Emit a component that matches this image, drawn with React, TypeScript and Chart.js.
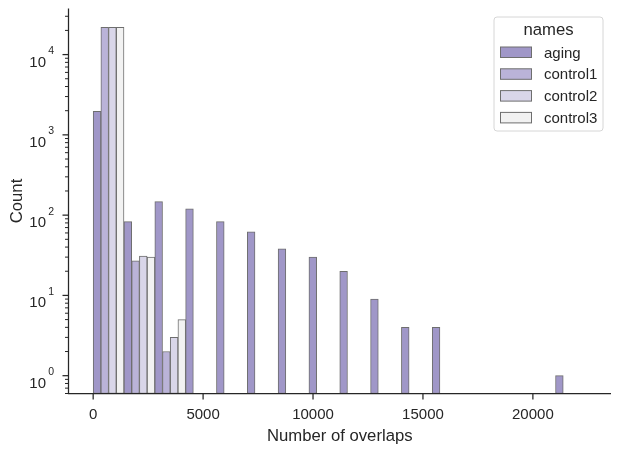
import React, { useEffect, useRef } from "react";
import { Chart, registerables } from "chart.js";

Chart.register(...registerables);

const binCenters = [701, 2103, 3505, 4907, 6309, 7711, 9113, 10515, 11917, 13319, 14721, 16123, 17525, 18927, 20329, 21731];
const seriesNames = ["aging", "control1", "control2", "control3"];
const aging = [1960, 83, 147, 120, 83, 62, 38, 30, 20, 9, 4, 4, null, null, null, 1];
const control1 = [21900, 27, 2, null, null, null, null, null, null, null, null, null, null, null, null, null];
const control2 = [21900, 31, 3, null, null, null, null, null, null, null, null, null, null, null, null, null];
const control3 = [21900, 30, 5, null, null, null, null, null, null, null, null, null, null, null, null, null];
const seriesValues = [aging, control1, control2, control3];
const seriesColors = ["#a097c8", "#bab3d8", "#d9d6e9", "#f2f2f2"];
const xTicks = [0, 5000, 10000, 15000, 20000];
const yMajorExps = [0, 1, 2, 3, 4];
const xTitle = "Number of overlaps";
const yTitle = "Count";
const legendTitle = "names";

const FONT = "'Liberation Sans', Arial, sans-serif";
const INK = "#262626";
const EDGE = "#6e6e6e";

const axesPlugin = {
  id: "mplAxes",
  afterDraw(chart: any) {
    const ctx = chart.ctx as CanvasRenderingContext2D;
    const area = chart.chartArea;
    const xs = chart.scales.x;
    const ys = chart.scales.y;
    ctx.save();
    // spines
    ctx.strokeStyle = INK;
    ctx.lineWidth = 1.25;
    ctx.beginPath();
    ctx.moveTo(area.left, area.top);
    ctx.lineTo(area.left, area.bottom);
    ctx.lineTo(area.right, area.bottom);
    ctx.stroke();

    // x ticks
    ctx.fillStyle = INK;
    ctx.font = `15px ${FONT}`;
    ctx.textAlign = "center";
    ctx.textBaseline = "alphabetic";
    for (const v of xTicks) {
      const px = xs.getPixelForValue(v);
      ctx.beginPath();
      ctx.moveTo(px, area.bottom);
      ctx.lineTo(px, area.bottom + 6);
      ctx.stroke();
      ctx.fillText(String(v), px, area.bottom + 25.5);
    }

    // y ticks (log)
    for (let k = -1; k <= 4; k++) {
      for (let m = 1; m <= 9; m++) {
        const v = m * Math.pow(10, k);
        if (v < ys.min || v > ys.max) continue;
        const py = ys.getPixelForValue(v);
        const major = m === 1;
        ctx.lineWidth = major ? 1.25 : 1;
        ctx.beginPath();
        ctx.moveTo(area.left, py);
        ctx.lineTo(area.left - (major ? 6 : 3.5), py);
        ctx.stroke();
      }
    }
    for (const e of yMajorExps) {
      const py = ys.getPixelForValue(Math.pow(10, e));
      ctx.textAlign = "right";
      ctx.font = `10.5px ${FONT}`;
      ctx.fillText(String(e), 54, py - 0.5);
      ctx.font = `15px ${FONT}`;
      ctx.fillText("10", 46, py + 12);
    }

    // axis titles
    ctx.font = `16.7px ${FONT}`;
    ctx.textAlign = "center";
    ctx.fillText(xTitle, (area.left + area.right) / 2, 441);
    ctx.save();
    ctx.translate(22, (area.top + area.bottom) / 2);
    ctx.rotate(-Math.PI / 2);
    ctx.fillText(yTitle, 0, 0);
    ctx.restore();

    // legend
    const lx = 494, ly = 17, lw = 109, lh = 114;
    ctx.beginPath();
    const r = 3;
    ctx.moveTo(lx + r, ly);
    ctx.arcTo(lx + lw, ly, lx + lw, ly + lh, r);
    ctx.arcTo(lx + lw, ly + lh, lx, ly + lh, r);
    ctx.arcTo(lx, ly + lh, lx, ly, r);
    ctx.arcTo(lx, ly, lx + lw, ly, r);
    ctx.closePath();
    ctx.fillStyle = "rgba(255,255,255,0.8)";
    ctx.fill();
    ctx.strokeStyle = "#d6d6d6";
    ctx.lineWidth = 1;
    ctx.stroke();

    ctx.fillStyle = INK;
    ctx.font = `16.7px ${FONT}`;
    ctx.textAlign = "center";
    ctx.fillText(legendTitle, lx + lw / 2, 35);
    ctx.font = `15px ${FONT}`;
    ctx.textAlign = "left";
    chart.data.datasets.forEach((ds: any, i: number) => {
      const cy = 52 + i * 21.8;
      ctx.fillStyle = ds.backgroundColor;
      ctx.fillRect(500.5, cy - 5, 31, 10.5);
      ctx.strokeStyle = EDGE;
      ctx.lineWidth = 1;
      ctx.strokeRect(500.5, cy - 5, 31, 10.5);
      ctx.fillStyle = INK;
      ctx.fillText(ds.label, 544, cy + 5.5);
    });
    ctx.restore();
  },
};

export default function App() {
  const ref = useRef<HTMLCanvasElement | null>(null);
  useEffect(() => {
    if (!ref.current) return;
    const chart = new Chart(ref.current, {
      type: "bar",
      data: {
        datasets: seriesNames.map((name, i) => ({
          label: name,
          data: binCenters.map((x, j) => ({ x, y: seriesValues[i][j] })),
          backgroundColor: seriesColors[i],
          borderColor: EDGE,
          borderWidth: 1,
          borderSkipped: false,
          categoryPercentage: 1,
          barPercentage: 1,
        })),
      } as any,
      options: {
        animation: false,
        responsive: true,
        maintainAspectRatio: false,
        layout: { padding: { left: 68.5, right: 10, top: 8.5, bottom: 58.5 } },
        plugins: { legend: { display: false }, tooltip: { enabled: false } },
        scales: {
          x: { type: "linear", min: -1122, max: 23553, offset: false, display: false },
          y: { type: "logarithmic", min: 0.618, max: 37500, display: false },
        },
      } as any,
      plugins: [axesPlugin],
    });
    return () => chart.destroy();
  }, []);
  return (
    <div style={{ position: "fixed", left: 0, top: 0, width: 621, height: 452, background: "#fff" }}>
      <canvas ref={ref} />
    </div>
  );
}
